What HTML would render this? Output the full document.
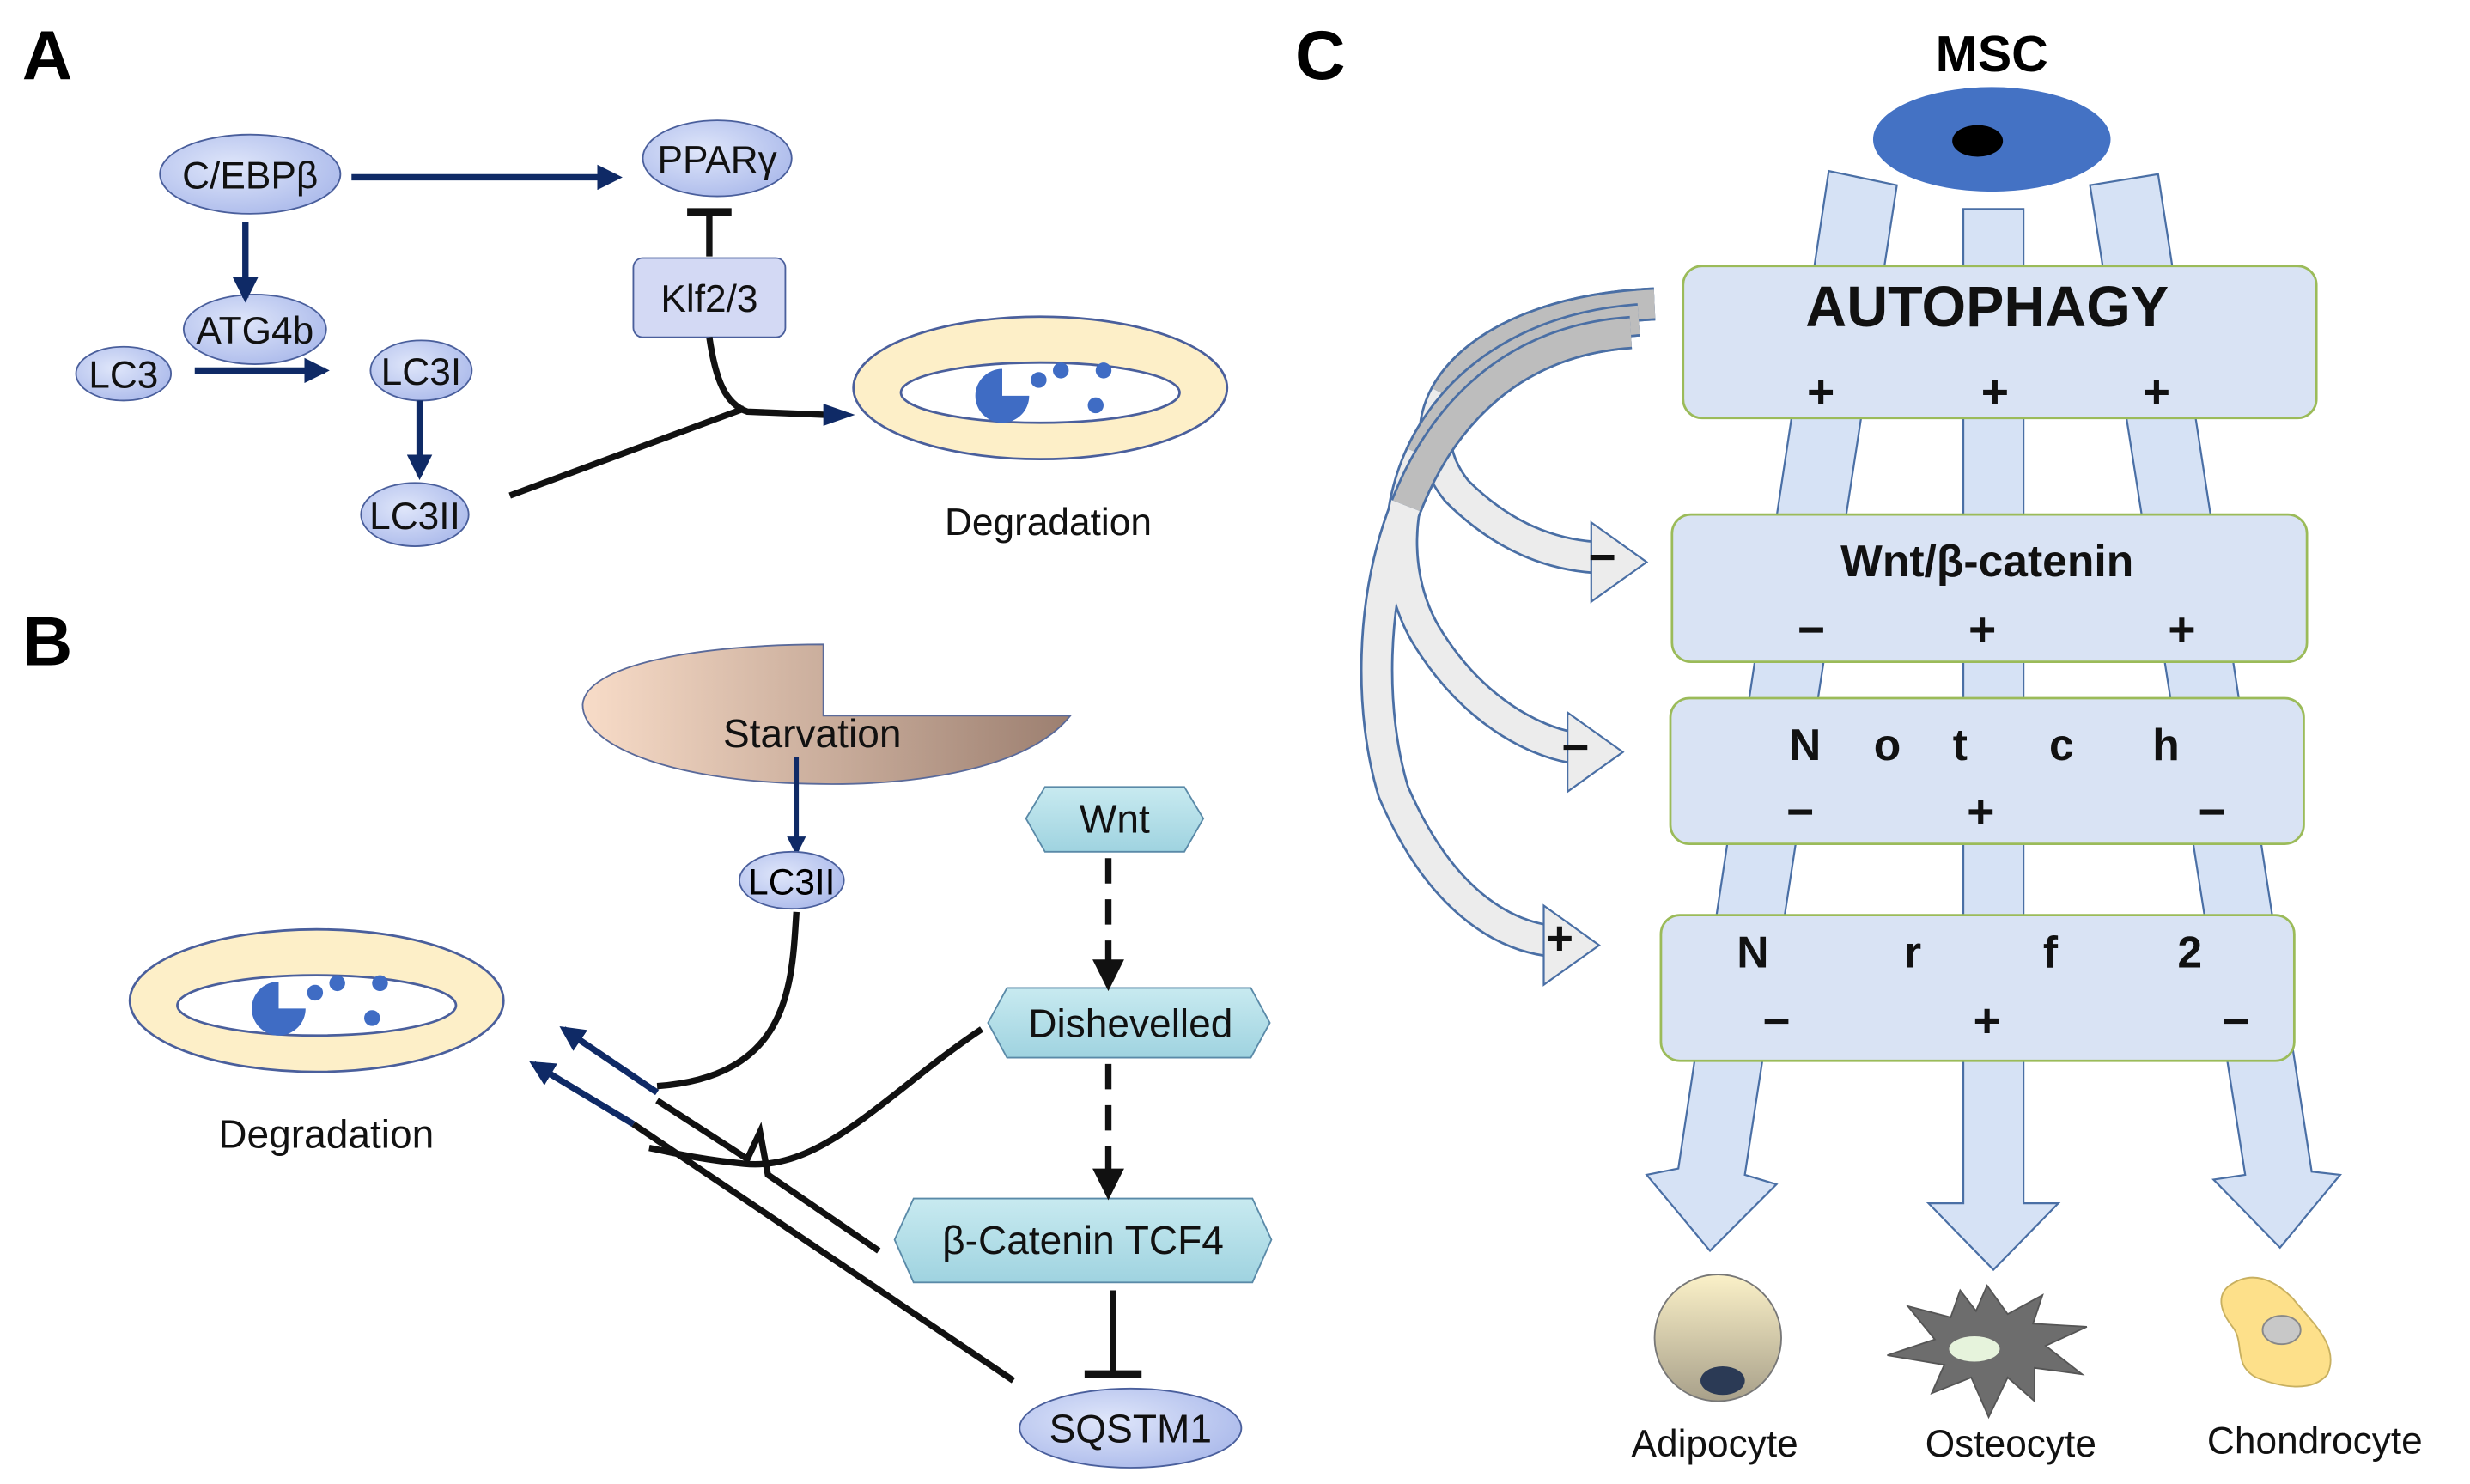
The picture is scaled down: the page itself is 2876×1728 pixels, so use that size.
<!DOCTYPE html>
<html><head><meta charset="utf-8"><style>html,body{margin:0;padding:0;background:#fff}svg{display:block}</style></head><body>
<svg width="2876" height="1728" viewBox="0 0 1560 937.3" preserveAspectRatio="none" xmlns="http://www.w3.org/2000/svg" font-family="Liberation Sans, DejaVu Sans, sans-serif">
<defs>
<marker id="ah" viewBox="0 0 10 10" refX="8" refY="5" markerWidth="4" markerHeight="4" orient="auto"><path d="M0,0L10,5L0,10z" fill="#0f2a66"/></marker>
<marker id="ahk" viewBox="0 0 10 10" refX="8" refY="5" markerWidth="5" markerHeight="5" orient="auto"><path d="M0,0L10,5L0,10z" fill="#111"/></marker>
<linearGradient id="starv" x1="0" x2="1"><stop offset="0" stop-color="#f8dcc8"/><stop offset="1" stop-color="#9c7f70"/></linearGradient>
<linearGradient id="hex" x1="0" y1="0" x2="0" y2="1"><stop offset="0" stop-color="#c8eaf0"/><stop offset="1" stop-color="#9fd3e0"/></linearGradient>
<linearGradient id="adip" x1="0" y1="0" x2="0" y2="1"><stop offset="0" stop-color="#fbf1c8"/><stop offset="1" stop-color="#a8a08a"/></linearGradient>
<radialGradient id="bl" cx="0.4" cy="0.4" r="0.7"><stop offset="0" stop-color="#dfe6fa"/><stop offset="1" stop-color="#a9b8ea"/></radialGradient>
</defs>
<g font-weight="bold" font-size="44" fill="#000">
<text x="14" y="50">A</text><text x="14" y="420">B</text><text x="818" y="50">C</text></g>
<!-- Panel A -->
<g stroke="#4a5f9c" stroke-width="1" fill="url(#bl)">
<ellipse cx="158" cy="110" rx="57" ry="25"/><ellipse cx="453" cy="100" rx="47" ry="24"/>
<ellipse cx="161" cy="208" rx="45" ry="22"/><ellipse cx="78" cy="236" rx="30" ry="17"/>
<ellipse cx="266" cy="234" rx="32" ry="19"/><ellipse cx="262" cy="325" rx="34" ry="20"/>
<rect x="400" y="163" width="96" height="50" rx="6" fill="#d3d9f4"/></g>
<g font-size="24" text-anchor="middle" fill="#111">
<text x="158" y="119">C/EBPβ</text><text x="453" y="109">PPARγ</text><text x="161" y="217">ATG4b</text>
<text x="78" y="245">LC3</text><text x="266" y="243">LC3I</text><text x="262" y="334">LC3II</text><text x="448" y="197">Klf2/3</text>
<text x="662" y="338">Degradation</text></g>
<g stroke="#0f2a66" stroke-width="4" fill="none" marker-end="url(#ah)">
<line x1="222" y1="112" x2="390" y2="112"/><line x1="155" y1="140" x2="155" y2="188"/>
<line x1="123" y1="234" x2="205" y2="234"/><line x1="265" y1="253" x2="265" y2="300"/></g>
<g stroke="#111" stroke-width="4" fill="none">
<line x1="448" y1="162" x2="448" y2="136"/><line x1="434" y1="134" x2="462" y2="134" stroke-width="5"/>
<line x1="322" y1="313" x2="470" y2="258"/><path d="M448,213 C452,240 458,255 472,260 L522,262"/></g>
<path d="M520,255 L540,262 L520,269z" fill="#0f2a66"/>
<g id="lyso"><ellipse cx="657" cy="245" rx="118" ry="45" fill="#fdefc8" stroke="#4a5f9c" stroke-width="1.5"/>
<ellipse cx="657" cy="248" rx="88" ry="19" fill="#fff" stroke="#4a5f9c" stroke-width="1.5"/>
<path d="M633,250 L633,233 A17,17 0 1 0 650,250 Z" fill="#3f6cc4"/>
<g fill="#3f6cc4"><circle cx="656" cy="240" r="5"/><circle cx="670" cy="234" r="5"/><circle cx="697" cy="234" r="5"/><circle cx="692" cy="256" r="5"/></g></g>
<!-- Panel B -->
<path d="M520,407 L520,452 L676,452 C650,485 580,497 510,495 C420,493 368,470 368,445 C370,420 440,407 520,407Z" fill="url(#starv)" stroke="#5a6a9a" stroke-width="1"/>
<text x="513" y="472" font-size="25" text-anchor="middle" fill="#111">Starvation</text>
<line x1="503" y1="478" x2="503" y2="538" stroke="#0f2a66" stroke-width="3" marker-end="url(#ah)"/>
<ellipse cx="500" cy="556" rx="33" ry="18" fill="url(#bl)" stroke="#4a5f9c"/>
<text x="500" y="565" font-size="23" text-anchor="middle">LC3II</text>
<g fill="url(#hex)" stroke="#5a8aa8" stroke-width="1">
<polygon points="660,497 748,497 760,517 748,538 660,538 648,517"/>
<polygon points="636,624 790,624 802,646 790,668 636,668 624,646"/>
<polygon points="577,757 791,757 803,783 791,810 577,810 565,783"/></g>
<line x1="703" y1="815" x2="703" y2="866" stroke="#111" stroke-width="4"/><line x1="685" y1="868" x2="721" y2="868" stroke="#111" stroke-width="5"/>
<ellipse cx="714" cy="902" rx="70" ry="25" fill="url(#bl)" stroke="#4a5f9c"/>
<g font-size="25" text-anchor="middle" fill="#111"><text x="704" y="526">Wnt</text><text x="714" y="655">Dishevelled</text>
<text x="684" y="792">β-Catenin TCF4</text><text x="714" y="911">SQSTM1</text><text x="206" y="725">Degradation</text></g>
<g stroke="#111" stroke-width="4" stroke-dasharray="16,10" fill="none" marker-end="url(#ahk)">
<line x1="700" y1="542" x2="700" y2="622"/><line x1="700" y1="672" x2="700" y2="754"/></g>
<use href="#lyso" transform="translate(-457,387)"/>
<g stroke="#111" stroke-width="4" fill="none">
<path d="M503,576 C500,620 500,680 415,686"/>
<path d="M555,790 L485,742 L480,715 L472,732 L415,695"/>
<path d="M620,650 C560,690 520,740 470,735 C440,732 425,728 410,725"/>
<line x1="640" y1="872" x2="400" y2="710"/></g>
<g stroke="#0f2a66" stroke-width="4" marker-end="url(#ah)"><line x1="415" y1="690" x2="356" y2="650"/><line x1="400" y1="710" x2="337" y2="672"/></g>
<!-- Panel C -->
<text x="1258" y="45" font-size="32" font-weight="bold" text-anchor="middle">MSC</text>
<ellipse cx="1258" cy="88" rx="75" ry="33" fill="#4472c4"/><ellipse cx="1249" cy="89" rx="16" ry="10" fill="#000"/>
<g fill="#d6e2f5" stroke="#4a6fa5" stroke-width="1.2">
<polygon points="1155,108 1198,117 1102,742 1122,748 1080,790 1040,742 1060,738"/>
<polygon points="1240,132 1278,132 1278,760 1300,760 1259,802 1218,760 1240,760"/>
<polygon points="1320,117 1363,110 1460,740 1478,742 1440,788 1398,745 1418,742"/></g>
<g fill="#d9e3f4" stroke="#9bbb59" stroke-width="1.5">
<rect x="1063" y="168" width="400" height="96" rx="12"/><rect x="1056" y="325" width="401" height="93" rx="12"/>
<rect x="1055" y="441" width="400" height="92" rx="12"/><rect x="1049" y="578" width="400" height="92" rx="12"/></g>
<g font-weight="bold" fill="#111" text-anchor="middle">
<text x="1255" y="206" font-size="36">AUTOPHAGY</text><text x="1255" y="364" font-size="28">Wnt/β-catenin</text>
<g font-size="28"><text x="1140" y="480">N</text><text x="1192" y="480">o</text><text x="1238" y="480">t</text><text x="1302" y="480">c</text><text x="1368" y="480">h</text>
<text x="1107" y="611">N</text><text x="1208" y="611">r</text><text x="1295" y="611">f</text><text x="1383" y="611">2</text></g>
<g font-size="30"><text x="1150" y="258">+</text><text x="1260" y="258">+</text><text x="1362" y="258">+</text>
<text x="1144" y="408">−</text><text x="1252" y="408">+</text><text x="1378" y="408">+</text>
<text x="1137" y="523">−</text><text x="1251" y="523">+</text><text x="1397" y="523">−</text>
<text x="1122" y="655">−</text><text x="1255" y="655">+</text><text x="1412" y="655">−</text></g></g>
<!-- curved arrows -->
<g fill="none" stroke-linecap="butt">
<g stroke="#4a6fa5" stroke-width="21">
<path d="M1030,210 C880,220 850,400 880,500 C910,570 950,590 977,594"/>
<path d="M1035,202 C900,212 860,330 900,400 C930,450 970,468 992,472"/>
<path d="M1045,192 C930,197 880,260 920,310 C950,340 980,350 1007,352"/></g>
<g stroke="#ececec" stroke-width="18">
<path d="M1030,210 C880,220 850,400 880,500 C910,570 950,590 977,594"/>
<path d="M1035,202 C900,212 860,330 900,400 C930,450 970,468 992,472"/>
<path d="M1045,192 C930,197 880,260 920,310 C950,340 980,350 1007,352"/></g>
<path d="M1045,192 C930,197 880,260 920,310" stroke="#4a6fa5" stroke-width="21" stroke-dasharray="150,2000"/>
<path d="M1045,192 C930,197 880,260 920,310" stroke="#bdbdbd" stroke-width="18" stroke-dasharray="150,2000"/>
<path d="M1035,202 C900,212 860,330 900,400" stroke="#4a6fa5" stroke-width="21" stroke-dasharray="170,2000"/>
<path d="M1035,202 C900,212 860,330 900,400" stroke="#bdbdbd" stroke-width="18" stroke-dasharray="170,2000"/>
<path d="M1030,210 C880,220 850,400 880,500" stroke="#4a6fa5" stroke-width="21" stroke-dasharray="190,2000"/>
<path d="M1030,210 C880,220 850,400 880,500" stroke="#bdbdbd" stroke-width="18" stroke-dasharray="190,2000"/></g>
<g fill="#ececec" stroke="#4a6fa5" stroke-width="1.2">
<polygon points="1005,330 1040,355 1005,380"/><polygon points="990,450 1025,475 990,500"/><polygon points="975,572 1010,597 975,622"/></g>
<g font-weight="bold" font-size="30" fill="#111" text-anchor="middle"><text x="1012" y="362">−</text><text x="995" y="482">−</text><text x="985" y="603">+</text></g>
<!-- cells -->
<circle cx="1085" cy="845" r="40" fill="url(#adip)" stroke="#777"/><ellipse cx="1088" cy="872" rx="14" ry="9" fill="#2b3a55"/>
<polygon points="1255,812 1268,830 1290,818 1284,836 1318,838 1292,850 1315,868 1285,864 1285,885 1268,870 1256,895 1245,870 1220,880 1228,862 1192,856 1222,846 1205,825 1232,832 1238,815 1248,828" fill="#6d6d6d" stroke="#555"/>
<ellipse cx="1247" cy="852" rx="16" ry="8" fill="#e6f3dc"/>
<path d="M1408,812 C1425,800 1440,812 1448,820 C1460,835 1478,850 1470,868 C1460,880 1440,876 1425,870 C1410,862 1418,848 1410,838 C1402,828 1400,818 1408,812Z" fill="#fde08a" stroke="#c8b060"/>
<ellipse cx="1441" cy="840" rx="12" ry="9" fill="#c8c8c8" stroke="#888"/>
<g font-size="24" text-anchor="middle" fill="#111"><text x="1083" y="920">Adipocyte</text><text x="1270" y="920">Osteocyte</text><text x="1462" y="918">Chondrocyte</text></g>
</svg>
</body></html>
